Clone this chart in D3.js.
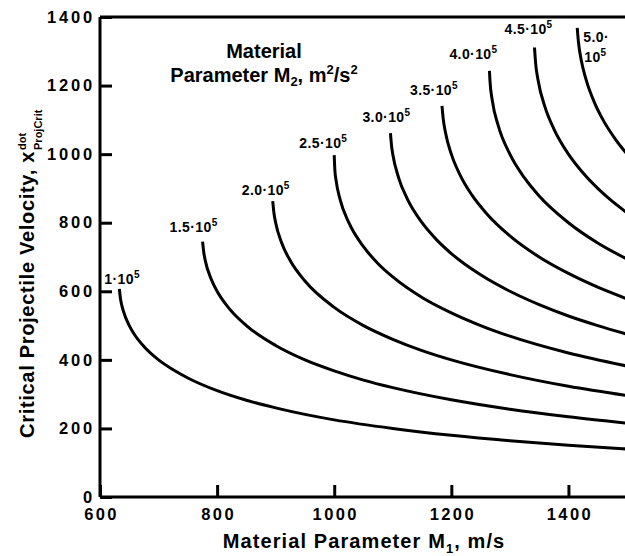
<!DOCTYPE html>
<html><head><meta charset="utf-8">
<script src="https://cdn.jsdelivr.net/npm/d3@7"></script>
<style>
body{margin:0;background:#fff}
svg{display:block;background:#fff}
text{font-family:"Liberation Sans",Arial,Helvetica,sans-serif;font-weight:bold;fill:#000}
</style>
</head><body>
<svg id="c" width="625" height="556"></svg>
<script>
// ---- data ----
const xTicks = [600, 800, 1000, 1200, 1400];
const yTicks = [0, 200, 400, 600, 800, 1000, 1200, 1400];
const m2Labels = ["1", "1.5", "2.0", "2.5", "3.0", "3.5", "4.0", "4.5", "5.0"];

const m1_a = [633, 635, 640, 650, 660, 675, 700, 725, 750, 800, 850, 900, 950, 1000, 1100, 1200, 1300, 1400, 1500];
const v_a  = [607, 578, 542, 500, 471, 439, 400, 371, 347, 310, 282, 260, 241, 225, 200, 180, 164, 151, 140];

const m1_b = [775.2, 777, 780, 790, 800, 820, 850, 900, 950, 1000, 1050, 1100, 1200, 1300, 1400, 1500];
const v_b  = [745, 716, 688, 635, 600, 551, 500, 442, 400, 368, 341, 319, 283.5, 256, 234, 215.5];

const m1_c = [895, 897, 900, 910, 925, 950, 1000, 1050, 1100, 1150, 1200, 1300, 1400, 1500];
const v_c  = [863, 829, 800, 742, 689, 630, 553, 500, 460, 427, 400, 357, 323, 296];

const m1_d = [1000, 1001, 1003, 1010, 1025, 1050, 1075, 1100, 1150, 1200, 1250, 1300, 1400, 1500];
const v_d  = [997, 956, 925.5, 868, 800, 730, 680.5, 642, 582, 537, 500, 469, 420, 382];

const m1_e = [1096, 1098, 1100, 1110, 1125, 1150, 1175, 1200, 1250, 1300, 1350, 1400, 1450, 1500];
const v_e  = [1061, 1023, 1000, 931, 869, 800, 750, 710, 648, 600, 561, 528, 500, 475];

const m1_f = [1184, 1186, 1190, 1200, 1215, 1235, 1260, 1300, 1350, 1400, 1450, 1500];
const v_f  = [1141, 1105, 1063, 1000, 939, 881, 827, 761.5, 700, 652, 612, 578];

const m1_g = [1265.1, 1266, 1270, 1280, 1300, 1325, 1350, 1400, 1450, 1500];
const v_g  = [1243, 1213.5, 1156, 1084, 1000, 930.5, 878, 800, 741, 694];

const m1_h = [1342, 1344, 1348, 1360, 1375, 1400, 1425, 1450, 1475, 1500];
const v_h  = [1311, 1264, 1217, 1137, 1074, 1000, 945, 900, 862, 829];

const m1_i = [1415, 1417, 1422, 1430, 1445, 1460, 1480, 1500];
const v_i  = [1368, 1328, 1273, 1218, 1148, 1097, 1044, 1000];

// ---- layout ----
const labelOffsets = [[-15,-5],[-33,-10],[-31,-6],[-35,-7],[-28,-11],[-32,-11],[-40,-12],[-30,-14],[6,14]];

const m1s = [m1_a, m1_b, m1_c, m1_d, m1_e, m1_f, m1_g, m1_h, m1_i];
const vs  = [v_a, v_b, v_c, v_d, v_e, v_f, v_g, v_h, v_i];
const series = m2Labels.map((lab, k) => ({
  label: lab,
  pts: m1s[k].map((m, j) => [m, vs[k][j]])
}));

const svg = d3.select("#c");
const x = d3.scaleLinear().domain([600, 1500]).range([100, 627]);
const y = d3.scaleLinear().domain([0, 1400]).range([497, 17]);

// curves
const line = d3.line().x(d => x(d[0])).y(d => y(d[1])).curve(d3.curveMonotoneX);
svg.append("g").selectAll("path").data(series).join("path")
  .attr("d", d => line(d.pts))
  .attr("fill", "none").attr("stroke", "#000").attr("stroke-width", 3);

// frame (top / right)
svg.append("path")
  .attr("d", `M${x(600)},${y(1400)}H${x(1500)}V${y(0)}`)
  .attr("fill", "none").attr("stroke", "#000").attr("stroke-width", 3);

// axes
const xAxis = d3.axisBottom(x).tickValues(xTicks).tickFormat(d3.format("d"))
  .tickSizeInner(-12).tickSizeOuter(0).tickPadding(11);
const gx = svg.append("g").attr("transform", `translate(0,${y(0)})`).call(xAxis);
const yAxis = d3.axisLeft(y).tickValues(yTicks).tickFormat(d3.format("d"))
  .tickSizeInner(-12).tickSizeOuter(0).tickPadding(5);
const gy = svg.append("g").attr("transform", `translate(${x(600)},0)`).call(yAxis);
[gx, gy].forEach(g => {
  g.select(".domain").attr("stroke", "#000").attr("stroke-width", 3);
  g.selectAll(".tick line").attr("stroke", "#000").attr("stroke-width", 3);
  g.selectAll(".tick text").attr("fill", "#000")
    .style("font-family", '"Liberation Sans",Arial,sans-serif')
    .style("font-weight", "bold").style("font-size", "16.5px");
});
gx.selectAll(".tick text").style("letter-spacing", "2.4px").attr("dx", "1px");
gy.selectAll(".tick text").style("letter-spacing", "2.8px");
gx.selectAll(".domain").attr("d", `M${x(600)},0H${x(1500)}`);
gy.selectAll(".domain").attr("d", `M0,${y(0)}V${y(1400)}`);

// curve labels
series.forEach((s, k) => {
  const x0 = x(s.pts[0][0]) + labelOffsets[k][0];
  const y0 = y(s.pts[0][1]) + labelOffsets[k][1];
  if (s.label === "5.0") {
    svg.append("text").attr("x", x0).attr("y", y0).style("font-size", "14px")
      .style("letter-spacing", "0.4px").text("5.0·");
    const t2 = svg.append("text").attr("x", x0 + 1).attr("y", y0 + 20)
      .style("font-size", "14px").style("letter-spacing", "0.4px");
    t2.append("tspan").text("10");
    t2.append("tspan").attr("dy", -6).style("font-size", "10px").text("5");
  } else {
    const t = svg.append("text").attr("x", x0).attr("y", y0)
      .style("font-size", "14px").style("letter-spacing", "0.4px");
    t.append("tspan").text(s.label + "·10");
    t.append("tspan").attr("dy", -6).style("font-size", "10px").text("5");
  }
});

// legend title
svg.append("text").attr("x", 264).attr("y", 58).attr("text-anchor", "middle")
  .style("font-size", "20px").text("Material");
const lt = svg.append("text").attr("x", 264).attr("y", 82).attr("text-anchor", "middle")
  .style("font-size", "20px");
lt.append("tspan").text("Parameter M");
lt.append("tspan").attr("dy", 4).style("font-size", "13px").text("2");
lt.append("tspan").attr("dy", -4).text(", m");
lt.append("tspan").attr("dy", -8).style("font-size", "13px").text("2");
lt.append("tspan").attr("dy", 8).text("/s");
lt.append("tspan").attr("dy", -8).style("font-size", "13px").text("2");

// x title
const xt = svg.append("text").attr("x", 364).attr("y", 548).attr("text-anchor", "middle")
  .style("font-size", "20px").style("letter-spacing", "1.1px");
xt.append("tspan").text("Material Parameter M");
xt.append("tspan").attr("dy", 5).style("font-size", "13px").text("1");
xt.append("tspan").attr("dy", -5).text(", m/s");

// y title
const yg = svg.append("g").attr("transform", "translate(34,438) rotate(-90)");
const ytMain = yg.append("text").attr("x", 0).attr("y", 0)
  .style("font-size", "20px").style("letter-spacing", "0.7px")
  .text("Critical Projectile Velocity, x");
const L = ytMain.node().getComputedTextLength();
yg.append("text").attr("x", L + 1).attr("y", -8).style("font-size", "11px").text("dot");
yg.append("text").attr("x", L + 1).attr("y", 8).style("font-size", "11px").text("ProjCrit");
</script>
</body></html>
